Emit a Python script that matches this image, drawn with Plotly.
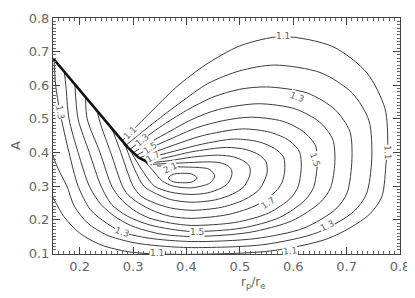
import plotly.graph_objects as go

# contour levels of the field A(r_p/r_e); each path,
# running from the upper side of the cut, round the peak, back to the cut / left edge
c11_x = [0.280, 0.294, 0.33, 0.38, 0.435, 0.5, 0.58, 0.674, 0.738, 0.772, 0.777, 0.774, 0.766, 0.740, 0.667, 0.557, 0.41, 0.33, 0.29, 0.24, 0.2, 0.17, 0.15]
c11_y = [0.435, 0.458, 0.515, 0.593, 0.66, 0.717, 0.745, 0.715, 0.637, 0.53, 0.42, 0.37, 0.269, 0.212, 0.145, 0.107, 0.097, 0.099, 0.105, 0.125, 0.16, 0.21, 0.267]
c12_x = [0.287, 0.305, 0.34, 0.39, 0.44, 0.5, 0.565, 0.652, 0.711, 0.742, 0.747, 0.737, 0.713, 0.646, 0.545, 0.41, 0.35, 0.3, 0.25, 0.215, 0.19, 0.176, 0.16, 0.15]
c12_y = [0.422, 0.445, 0.49, 0.55, 0.605, 0.643, 0.66, 0.637, 0.576, 0.494, 0.38, 0.276, 0.224, 0.162, 0.126, 0.117, 0.122, 0.132, 0.155, 0.19, 0.24, 0.3, 0.35, 0.39]
c13_x = [0.294, 0.317, 0.35, 0.40, 0.45, 0.5, 0.55, 0.626, 0.678, 0.706, 0.71, 0.701, 0.68, 0.62, 0.53, 0.41, 0.33, 0.28, 0.25, 0.22, 0.197, 0.18, 0.163, 0.155, 0.152]
c13_y = [0.409, 0.437, 0.475, 0.525, 0.565, 0.588, 0.595, 0.577, 0.528, 0.463, 0.38, 0.28, 0.232, 0.175, 0.144, 0.135, 0.145, 0.163, 0.19, 0.23, 0.3, 0.4, 0.52, 0.6, 0.675]
c14_x = [0.300, 0.325, 0.36, 0.41, 0.46, 0.535, 0.603, 0.649, 0.674, 0.678, 0.67, 0.651, 0.598, 0.517, 0.41, 0.35, 0.3, 0.27, 0.24, 0.218, 0.197, 0.18, 0.174, 0.171]
c14_y = [0.399, 0.424, 0.455, 0.498, 0.528, 0.545, 0.53, 0.491, 0.439, 0.37, 0.295, 0.252, 0.197, 0.162, 0.15, 0.158, 0.18, 0.205, 0.245, 0.3, 0.4, 0.5, 0.6, 0.641]
c15_x = [0.306, 0.332, 0.37, 0.42, 0.47, 0.52, 0.58, 0.62, 0.642, 0.645, 0.638, 0.622, 0.575, 0.504, 0.41, 0.37, 0.33, 0.29, 0.26, 0.24, 0.218, 0.197, 0.191]
c15_y = [0.391, 0.413, 0.44, 0.474, 0.495, 0.505, 0.493, 0.461, 0.419, 0.365, 0.296, 0.258, 0.207, 0.175, 0.165, 0.172, 0.185, 0.21, 0.245, 0.3, 0.4, 0.5, 0.602]
c16_x = [0.312, 0.335, 0.38, 0.43, 0.505, 0.557, 0.593, 0.612, 0.615, 0.609, 0.595, 0.554, 0.492, 0.41, 0.37, 0.33, 0.3, 0.275, 0.26, 0.238, 0.214, 0.211]
c16_y = [0.384, 0.398, 0.424, 0.45, 0.47, 0.46, 0.435, 0.401, 0.355, 0.298, 0.264, 0.22, 0.192, 0.183, 0.19, 0.205, 0.23, 0.265, 0.3, 0.4, 0.5, 0.564]
c17_x = [0.318, 0.335, 0.38, 0.43, 0.49, 0.535, 0.565, 0.582, 0.584, 0.579, 0.567, 0.532, 0.48, 0.41, 0.37, 0.34, 0.31, 0.29, 0.28, 0.258, 0.24, 0.232]
c17_y = [0.378, 0.386, 0.405, 0.425, 0.44, 0.432, 0.412, 0.386, 0.345, 0.311, 0.284, 0.244, 0.216, 0.204, 0.21, 0.225, 0.25, 0.275, 0.3, 0.4, 0.48, 0.525]
c18_x = [0.324, 0.36, 0.41, 0.475, 0.511, 0.536, 0.549, 0.551, 0.537, 0.509, 0.466, 0.41, 0.37, 0.34, 0.315, 0.3, 0.277, 0.26, 0.252]
c18_y = [0.373, 0.384, 0.402, 0.415, 0.409, 0.393, 0.372, 0.34, 0.291, 0.26, 0.237, 0.228, 0.235, 0.25, 0.27, 0.3, 0.4, 0.47, 0.486]
c19_x = [0.330, 0.37, 0.41, 0.46, 0.488, 0.507, 0.518, 0.519, 0.508, 0.486, 0.454, 0.41, 0.37, 0.34, 0.32, 0.3, 0.285, 0.272]
c19_y = [0.369, 0.376, 0.386, 0.392, 0.387, 0.375, 0.359, 0.335, 0.299, 0.276, 0.259, 0.252, 0.26, 0.28, 0.3, 0.36, 0.42, 0.448]
c20_x = [0.337, 0.38, 0.445, 0.464, 0.477, 0.484, 0.485, 0.4775, 0.4625, 0.44, 0.41, 0.37, 0.34, 0.32, 0.293]
c20_y = [0.365, 0.368, 0.372, 0.369, 0.361, 0.35, 0.333, 0.308, 0.292, 0.28, 0.275, 0.282, 0.3, 0.34, 0.41]
c21_x = [0.345, 0.39, 0.425, 0.443, 0.453, 0.444, 0.41, 0.375, 0.355, 0.335, 0.318]
c21_y = [0.36, 0.357, 0.355, 0.35, 0.33, 0.309, 0.295, 0.3, 0.315, 0.35, 0.38]
c22_x = [0.42, 0.41, 0.393, 0.375, 0.366, 0.375, 0.393, 0.41, 0.42]
c22_y = [0.324, 0.336, 0.338, 0.335, 0.324, 0.313, 0.31, 0.312, 0.324]

# the cut where the lines crowd together
cut_x = [0.15, 0.2, 0.25, 0.29, 0.31, 0.335]
cut_y = [0.68, 0.585, 0.49, 0.415, 0.385, 0.365]

contours = [
    (c11_x, c11_y), (c12_x, c12_y), (c13_x, c13_y), (c14_x, c14_y),
    (c15_x, c15_y), (c16_x, c16_y), (c17_x, c17_y), (c18_x, c18_y),
    (c19_x, c19_y), (c20_x, c20_y), (c21_x, c21_y), (c22_x, c22_y),
]

fig = go.Figure()

for cx, cy in contours:
    fig.add_trace(go.Scatter(
        x=cx, y=cy, mode="lines",
        line=dict(color="#3c3c3c", width=1, shape="spline", smoothing=0.8),
        hoverinfo="skip", showlegend=False,
    ))

fig.add_trace(go.Scatter(
    x=cut_x, y=cut_y, mode="lines",
    line=dict(color="#111", width=2.6),
    hoverinfo="skip", showlegend=False,
))

# inline contour labels: (text, x, y, angle)
labels = [
    ("1.1", 0.58, 0.745, 0), ("1.3", 0.607, 0.566, 22), ("1.1", 0.776, 0.40, 88),
    ("1.5", 0.640, 0.380, 70), ("1.7", 0.553, 0.249, -35), ("1.3", 0.663, 0.182, -25),
    ("1.1", 0.594, 0.108, -5), ("1.5", 0.42, 0.164, 0), ("1.3", 0.28, 0.164, 20),
    ("1.1", 0.345, 0.100, 0), ("1.3", 0.163, 0.52, 80),
    ("1.1", 0.294, 0.458, -45), ("1.3", 0.317, 0.437, -40), ("1.5", 0.332, 0.413, -35),
    ("1.7", 0.337, 0.386, -30), ("2.1", 0.369, 0.354, -25),
]
for txt, lx, ly, ang in labels:
    fig.add_annotation(
        x=lx, y=ly, text=txt, showarrow=False, textangle=ang,
        font=dict(family="DejaVu Sans", size=9, color="#666"),
        bgcolor="white", borderpad=0,
    )

# axis titles
fig.add_annotation(
    x=0.576, y=-0.123, xref="paper", yref="paper", yanchor="middle",
    text="r<sub>p</sub>/r<sub>e</sub>", showarrow=False,
    font=dict(family="DejaVu Sans", size=12, color="#666"),
)
fig.add_annotation(
    x=-0.135, y=0.46, xref="paper", yref="paper", textangle=-90,
    text="A", showarrow=False,
    font=dict(family="DejaVu Sans", size=13, color="#666"),
)

axis_common = dict(
    showline=True, linecolor="#444", linewidth=1, mirror="ticks",
    ticks="inside", ticklen=7, tickcolor="#444", showgrid=False, zeroline=False,
    automargin=False,
    tickfont=dict(family="DejaVu Sans", size=13, color="#666"),
    minor=dict(ticks="inside", ticklen=3, dtick=0.01, tickcolor="#666", showgrid=False),
)

# the page body adds an 8px offset, so the margins are set 8px short on left/top
fig.update_layout(
    width=415, height=298,
    margin=dict(l=45, r=23, t=10, b=52),
    paper_bgcolor="white", plot_bgcolor="white",
    xaxis=dict(range=[0.15, 0.8], dtick=0.1, tick0=0, tickformat=".1f", **axis_common),
    yaxis=dict(range=[0.098, 0.8], dtick=0.1, tick0=0, tickformat=".1f", **axis_common),
)

fig.write_html("out.html")
